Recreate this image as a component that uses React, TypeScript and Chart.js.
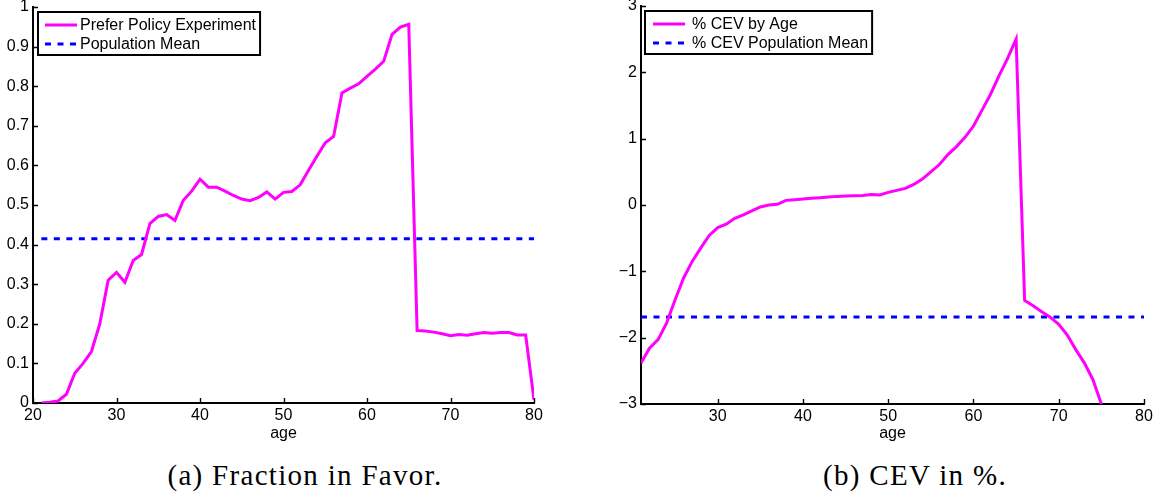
import React, { useEffect, useRef } from 'react';
import { Chart, registerables } from 'chart.js';

Chart.register(...registerables);

// ---------- data ----------
const fractionAges = [21, 22, 23, 24, 25, 26, 27, 28, 29, 30, 31, 32, 33, 34, 35, 36, 37, 38, 39, 40,
  41, 42, 43, 44, 45, 46, 47, 48, 49, 50, 51, 52, 53, 54, 55, 56, 57, 58, 59, 60,
  61, 62, 63, 64, 65, 66, 67, 68, 69, 70, 71, 72, 73, 74, 75, 76, 77, 78, 79, 80];
const fractionInFavor = [0.000, 0.002, 0.005, 0.022, 0.075, 0.100, 0.130, 0.200, 0.310, 0.330,
  0.305, 0.360, 0.375, 0.453, 0.471, 0.476, 0.461, 0.512, 0.535, 0.565,
  0.545, 0.545, 0.535, 0.524, 0.515, 0.511, 0.519, 0.533, 0.515, 0.532,
  0.534, 0.551, 0.588, 0.623, 0.657, 0.673, 0.783, 0.795, 0.806, 0.825,
  0.843, 0.863, 0.931, 0.949, 0.956, 0.183, 0.182, 0.179, 0.175, 0.170,
  0.173, 0.171, 0.175, 0.178, 0.176, 0.178, 0.178, 0.172, 0.172, 0.008];
const fractionMeanAges = [21, 80];
const fractionMean = [0.415, 0.415];

const cevAges = [21, 22, 23, 24, 25, 26, 27, 28, 29, 30, 31, 32, 33, 34, 35, 36, 37, 38, 39, 40,
  41, 42, 43, 44, 45, 46, 47, 48, 49, 50, 51, 52, 53, 54, 55, 56, 57, 58, 59, 60,
  61, 62, 63, 64, 65, 66, 67, 68, 69, 70, 71, 72, 73, 74, 75];
const cevByAge = [-2.38, -2.16, -2.03, -1.78, -1.43, -1.10, -0.85, -0.65, -0.46, -0.34,
  -0.29, -0.20, -0.15, -0.09, -0.03, 0.00, 0.01, 0.07, 0.08, 0.09,
  0.10, 0.11, 0.12, 0.13, 0.135, 0.14, 0.145, 0.16, 0.15, 0.19,
  0.22, 0.25, 0.31, 0.39, 0.50, 0.61, 0.76, 0.88, 1.02, 1.19,
  1.43, 1.67, 1.95, 2.21, 2.50, -1.44, -1.52, -1.61, -1.69, -1.80,
  -1.96, -2.18, -2.38, -2.63, -3.00];
const cevMeanAges = [21, 80];
const cevMean = [-1.69, -1.69];

const leftLegend = ['Prefer Policy Experiment', 'Population Mean'];
const rightLegend = ['% CEV by Age', '% CEV Population Mean'];
const captionA = '(a) Fraction in Favor.';
const captionB = '(b) CEV in %.';
const xTitle = 'age';

// ---------- styles ----------
const MAGENTA = '#FF00FF';
const BLUE = '#0000FF';
const FONT = '"Liberation Sans", Arial, Helvetica, sans-serif';
const DASH = [6, 6.5];

type Panel = {
  width: number;
  height: number;
  areaLeft: number;
  areaTop: number;
  areaBottom: number;
  padRight: number;
  xMin: number;
  xMax: number;
  yMin: number;
  yMax: number;
  yStep: number;
  yFmt: (v: number) => string;
  seriesX: number[];
  seriesY: number[];
  meanX: number[];
  meanY: number[];
  labels: string[];
  boxDx: number;
  textDx: number;
};

function toPoints(xs: number[], ys: number[]) {
  return xs.map((x, i) => ({ x, y: ys[i] }));
}

const inwardTicks = {
  id: 'inwardTicks',
  afterDraw(chart: any) {
    const ctx = chart.ctx;
    const { left, bottom } = chart.chartArea;
    const xs = chart.scales.x;
    const ys = chart.scales.y;
    ctx.save();
    ctx.strokeStyle = '#000';
    ctx.lineWidth = 1.4;
    ctx.beginPath();
    xs.ticks.forEach((t: any) => {
      const px = Math.round(xs.getPixelForValue(t.value)) + 0.5;
      ctx.moveTo(px, bottom);
      ctx.lineTo(px, bottom - 5);
    });
    ys.ticks.forEach((t: any) => {
      const py = Math.round(ys.getPixelForValue(t.value)) + 0.5;
      ctx.moveTo(left, py);
      ctx.lineTo(left + 5, py);
    });
    ctx.stroke();
    ctx.restore();
  },
};

const boxLegend = {
  id: 'boxLegend',
  afterDraw(chart: any, _args: any, opts: any) {
    const ctx = chart.ctx;
    const { left, top } = chart.chartArea;
    const labels: string[] = opts.labels || [];
    ctx.save();
    ctx.font = '16px ' + FONT;
    const maxW = Math.max(...labels.map((l) => ctx.measureText(l).width));
    const bx = left + opts.boxDx;
    const by = top + 5;
    const tx = left + opts.textDx;
    const bw = tx - bx + maxW + 4;
    const bh = 43;
    ctx.fillStyle = '#fff';
    ctx.fillRect(bx, by, bw, bh);
    ctx.strokeStyle = '#000';
    ctx.lineWidth = 2;
    ctx.strokeRect(bx, by, bw, bh);
    const rows = [top + 18, top + 37];
    const styles = [
      { color: MAGENTA, dash: [] as number[] },
      { color: BLUE, dash: DASH },
    ];
    labels.forEach((lab, i) => {
      ctx.beginPath();
      ctx.strokeStyle = styles[i].color;
      ctx.lineWidth = 3;
      ctx.setLineDash(styles[i].dash);
      ctx.moveTo(left + 12, rows[i]);
      ctx.lineTo(left + 44, rows[i]);
      ctx.stroke();
      ctx.setLineDash([]);
      ctx.fillStyle = '#000';
      ctx.textBaseline = 'middle';
      ctx.textAlign = 'left';
      ctx.fillText(lab, tx, rows[i] + 1);
    });
    ctx.restore();
  },
};

function buildConfig(p: Panel): any {
  return {
    type: 'line',
    data: {
      datasets: [
        {
          data: toPoints(p.seriesX, p.seriesY),
          borderColor: MAGENTA,
          borderWidth: 3,
          pointRadius: 0,
          tension: 0,
          fill: false,
        },
        {
          data: toPoints(p.meanX, p.meanY),
          borderColor: BLUE,
          borderWidth: 3,
          borderDash: DASH,
          pointRadius: 0,
          tension: 0,
          fill: false,
        },
      ],
    },
    options: {
      animation: false,
      responsive: false,
      maintainAspectRatio: false,
      events: [],
      layout: { padding: { top: p.areaTop, right: p.padRight, left: 0, bottom: 0 } },
      plugins: {
        legend: { display: false },
        tooltip: { enabled: false },
        boxLegend: { labels: p.labels, boxDx: p.boxDx, textDx: p.textDx },
      },
      scales: {
        x: {
          type: 'linear',
          min: p.xMin,
          max: p.xMax,
          grid: { display: false, drawTicks: false },
          border: { display: true, color: '#000', width: 2 },
          ticks: {
            stepSize: 10,
            padding: 3,
            color: '#000',
            font: { family: FONT, size: 16 },
            maxRotation: 0,
            callback: (v: number) => String(v),
          },
          afterBuildTicks: (s: any) => {
            s.ticks = s.ticks.filter((t: any) => t.value % 10 === 0);
          },
          title: {
            display: true,
            text: xTitle,
            color: '#000',
            font: { family: FONT, size: 16 },
            padding: { top: 0, bottom: 7 },
          },
          afterFit: (s: any) => {
            s.height = p.height - p.areaBottom;
            s.paddingLeft = 0;
            s.paddingRight = 0;
          },
        },
        y: {
          type: 'linear',
          min: p.yMin,
          max: p.yMax,
          grid: { display: false, drawTicks: false },
          border: { display: true, color: '#000', width: 2 },
          ticks: {
            stepSize: p.yStep,
            padding: 4,
            color: '#000',
            font: { family: FONT, size: 16 },
            callback: (v: number) => p.yFmt(v),
          },
          afterFit: (s: any) => {
            s.width = p.areaLeft;
            s.paddingTop = 0;
            s.paddingBottom = 0;
          },
        },
      },
    },
    plugins: [inwardTicks, boxLegend],
  };
}

const leftPanel: Panel = {
  width: 580,
  height: 450,
  areaLeft: 33,
  areaTop: 7,
  areaBottom: 403,
  padRight: 46,
  xMin: 20,
  xMax: 80,
  yMin: 0,
  yMax: 1,
  yStep: 0.1,
  yFmt: (v) => {
    const r = Math.round(v * 10) / 10;
    return r === 0 ? '0' : r === 1 ? '1' : r.toFixed(1);
  },
  seriesX: fractionAges,
  seriesY: fractionInFavor,
  meanX: fractionMeanAges,
  meanY: fractionMean,
  labels: leftLegend,
  boxDx: 5,
  textDx: 47,
};

const rightPanel: Panel = {
  width: 581,
  height: 450,
  areaLeft: 61,
  areaTop: 6,
  areaBottom: 404,
  padRight: 17,
  xMin: 21,
  xMax: 80,
  yMin: -3,
  yMax: 3,
  yStep: 1,
  yFmt: (v) => {
    const r = Math.round(v);
    return r < 0 ? '\u2212' + String(-r) : String(r);
  },
  seriesX: cevAges,
  seriesY: cevByAge,
  meanX: cevMeanAges,
  meanY: cevMean,
  labels: rightLegend,
  boxDx: 4,
  textDx: 51,
};

function ChartPanel({ panel, left }: { panel: Panel; left: number }) {
  const ref = useRef<HTMLCanvasElement | null>(null);
  useEffect(() => {
    if (!ref.current) return;
    const chart = new Chart(ref.current, buildConfig(panel));
    return () => chart.destroy();
  }, [panel]);
  return (
    <canvas
      ref={ref}
      width={panel.width}
      height={panel.height}
      style={{ position: 'absolute', left, top: 0, width: panel.width, height: panel.height }}
    />
  );
}

const captionStyle: React.CSSProperties = {
  position: 'absolute',
  top: 458,
  width: 400,
  height: 34,
  lineHeight: '34px',
  textAlign: 'center',
  fontFamily: '"Liberation Serif", "Times New Roman", serif',
  fontSize: 29,
  letterSpacing: '1.3px',
  color: '#000',
  whiteSpace: 'nowrap',
};

export default function App() {
  return (
    <div style={{ position: 'absolute', left: 0, top: 0, width: 1161, height: 498, background: '#fff', overflow: 'hidden' }}>
      <ChartPanel panel={leftPanel} left={0} />
      <ChartPanel panel={rightPanel} left={580} />
      <div style={{ ...captionStyle, left: 305 - 200 }}>{captionA}</div>
      <div style={{ ...captionStyle, left: 915 - 200 }}>{captionB}</div>
    </div>
  );
}
